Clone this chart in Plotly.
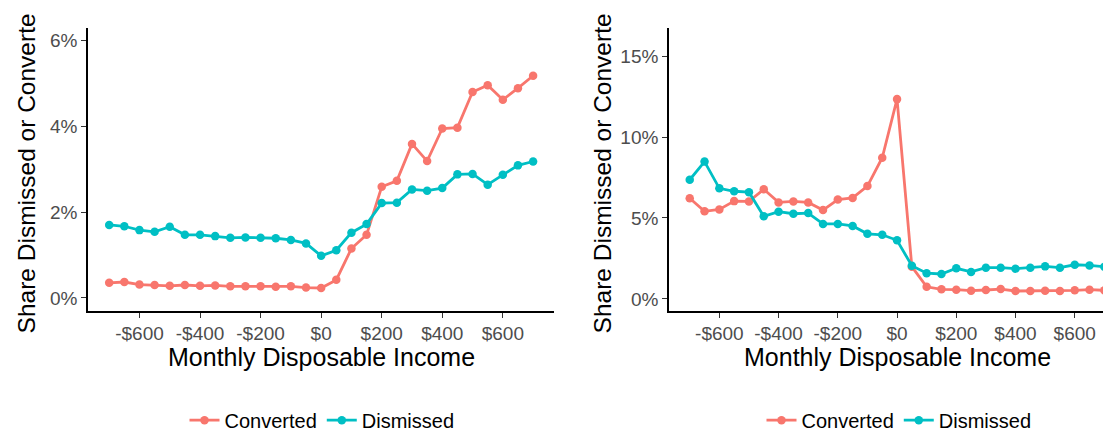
import plotly.graph_objects as go

# Monthly disposable income bins
income = [-700, -650, -600, -550, -500, -450, -400, -350, -300, -250, -200, -150, -100, -50,
          0, 50, 100, 150, 200, 250, 300, 350, 400, 450, 500, 550, 600, 650, 700]

# Left panel (percent)
left_converted = [0.35, 0.37, 0.31, 0.30, 0.28, 0.30, 0.28, 0.29, 0.27, 0.27, 0.27, 0.26, 0.27, 0.24,
                  0.23, 0.42, 1.15, 1.47, 2.59, 2.73, 3.59, 3.19, 3.95, 3.97, 4.80, 4.96, 4.62, 4.89, 5.18]
left_dismissed = [1.70, 1.67, 1.58, 1.54, 1.66, 1.47, 1.47, 1.44, 1.40, 1.41, 1.40, 1.39, 1.35, 1.27,
                  0.98, 1.11, 1.52, 1.72, 2.21, 2.22, 2.53, 2.50, 2.56, 2.88, 2.89, 2.64, 2.87, 3.09, 3.18]

# Right panel (percent)
right_converted = [6.22, 5.41, 5.53, 6.04, 6.02, 6.77, 5.96, 6.02, 5.96, 5.49, 6.14, 6.24, 6.97, 8.72,
                   12.34, 1.99, 0.75, 0.59, 0.57, 0.51, 0.55, 0.61, 0.49, 0.49, 0.51, 0.49, 0.53, 0.57, 0.53]
right_dismissed = [7.36, 8.48, 6.83, 6.65, 6.59, 5.10, 5.39, 5.26, 5.30, 4.63, 4.63, 4.51, 4.02, 3.96,
                   3.62, 2.05, 1.59, 1.54, 1.89, 1.67, 1.93, 1.93, 1.87, 1.93, 2.01, 1.93, 2.11, 2.07, 1.99]

x_tickvals = [-600, -400, -200, 0, 200, 400, 600]
x_ticktext = ["-$600", "-$400", "-$200", "$0", "$200", "$400", "$600"]
left_yticks = [0, 2, 4, 6]
left_ytext = ["0%", "2%", "4%", "6%"]
right_yticks = [0, 5, 10, 15]
right_ytext = ["0%", "5%", "10%", "15%"]

series_names = ["Converted", "Dismissed"]
colors = ["#F8766D", "#00BFC4"]

W, H = 1111, 432
FONT = "Liberation Sans, Arial, Helvetica, sans-serif"

fig = go.Figure()

for (ys, xa, ya, leg) in [((left_converted, left_dismissed), "x", "y", "legend"),
                          ((right_converted, right_dismissed), "x2", "y2", "legend2")]:
    for name, col, vals in zip(series_names, colors, ys):
        fig.add_trace(go.Scatter(
            x=income, y=vals, name=name, mode="lines+markers",
            line=dict(color=col, width=2.8),
            marker=dict(color=col, size=8.5),
            xaxis=xa, yaxis=ya, legend=leg, showlegend=True,
        ))

def px_x(p):
    return p / W

def px_y(p):
    return 1 - p / H

axis_common = dict(
    showline=True, linecolor="black", linewidth=1.6,
    ticks="outside", ticklen=5, tickwidth=1.4, tickcolor="#333333",
    showgrid=False, zeroline=False, tickmode="array",
    tickfont=dict(family=FONT, size=19, color="#4D4D4D"),
)

ydom = [px_y(307), px_y(20)]

fig.update_layout(
    width=W, height=H,
    margin=dict(l=0, r=0, t=0, b=0),
    paper_bgcolor="white", plot_bgcolor="white",
    font=dict(family=FONT),
    xaxis=dict(domain=[px_x(80), px_x(546.3)], range=[-770, 770], anchor="y",
               tickvals=x_tickvals, ticktext=x_ticktext, **axis_common),
    yaxis=dict(domain=ydom, range=[-0.3, 6.3], anchor="x",
               tickvals=left_yticks, ticktext=left_ytext, **axis_common),
    xaxis2=dict(domain=[px_x(661), 1.0], range=[-770, 749.5], anchor="y2",
                tickvals=x_tickvals, ticktext=x_ticktext, **axis_common),
    yaxis2=dict(domain=ydom, range=[-0.73, 16.75], anchor="x2",
                tickvals=right_yticks, ticktext=right_ytext, **axis_common),
    legend=dict(orientation="h", x=px_x(314), xanchor="center", y=px_y(418), yanchor="middle",
                font=dict(family=FONT, size=20, color="black"), bgcolor="rgba(0,0,0,0)"),
    legend2=dict(orientation="h", x=px_x(891), xanchor="center", y=px_y(418), yanchor="middle",
                 font=dict(family=FONT, size=20, color="black"), bgcolor="rgba(0,0,0,0)"),
)

annots = []
for cx in [313, 889]:
    annots.append(dict(text="Monthly Disposable Income", x=px_x(cx), y=px_y(354),
                       xref="paper", yref="paper", xanchor="center", yanchor="middle",
                       showarrow=False, font=dict(family=FONT, size=25, color="black")))
for cx in [18, 594]:
    annots.append(dict(text="Share Dismissed or Converte", x=px_x(cx), y=px_y(331),
                       xref="paper", yref="paper", xanchor="center", yanchor="bottom",
                       textangle=-90, showarrow=False, borderpad=0,
                       font=dict(family=FONT, size=24.5, color="black")))
fig.update_layout(annotations=annots)

fig.write_html("out.html")
